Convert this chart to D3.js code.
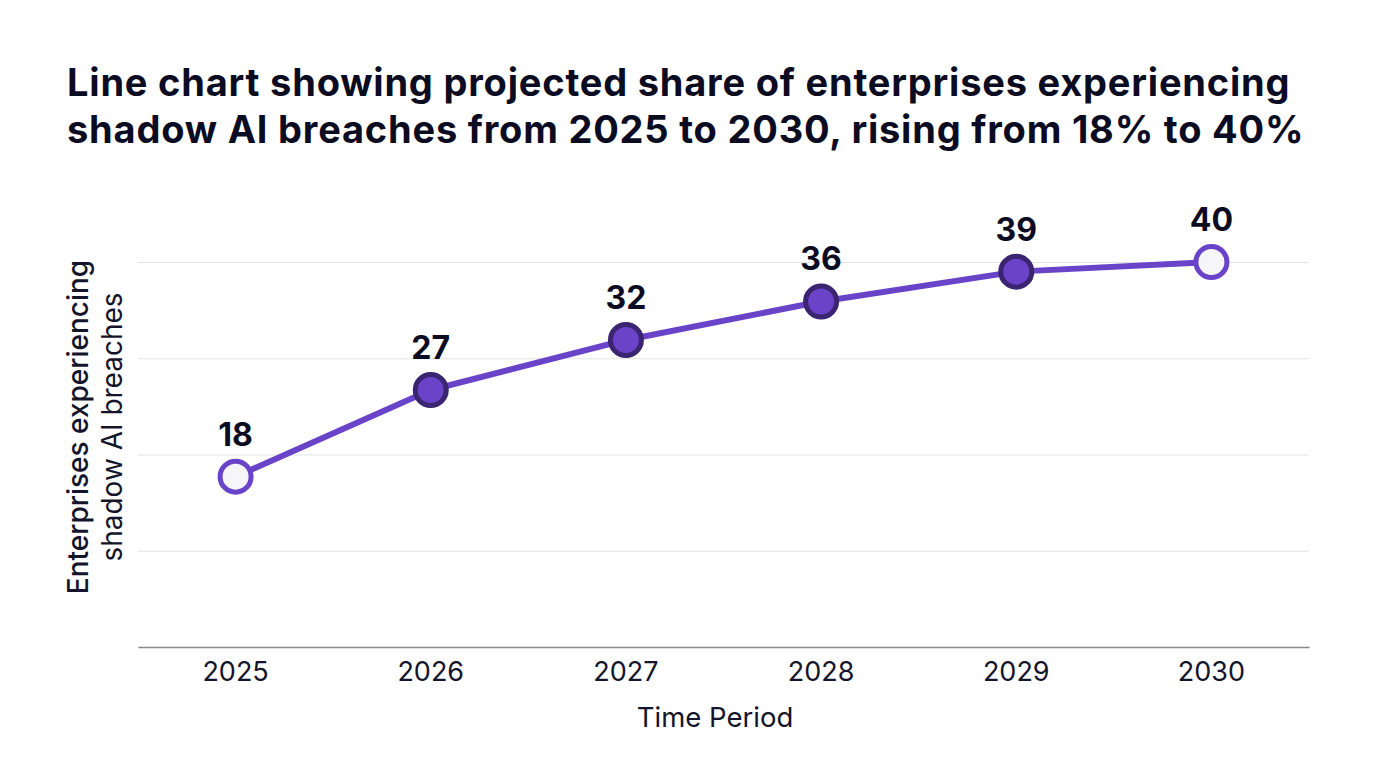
<!DOCTYPE html>
<html>
<head>
<meta charset="utf-8">
<script src="https://cdn.jsdelivr.net/npm/d3@7"></script>
<style>
  html, body { margin: 0; padding: 0; background: #ffffff; }
  svg { display: block; font-family: Inter, "Noto Sans", sans-serif; }
</style>
</head>
<body>
<svg id="chart" width="1376" height="768"></svg>
<script>
const titleLines = [
  "Line chart showing projected share of enterprises experiencing",
  "shadow AI breaches from 2025 to 2030, rising from 18% to 40%"
];
const years = ["2025", "2026", "2027", "2028", "2029", "2030"];
const shares = [17.7, 26.7, 31.9, 35.9, 39, 40];
const gridTicks = [10, 20, 30, 40];
const yTitleLines = ["Enterprises experiencing", "shadow AI breaches"];
const xTitle = "Time Period";

const svg = d3.select("#chart");
const margin = { left: 138, right: 67, top: 262, bottom: 121 };
const W = 1376, H = 768;

const x = d3.scaleBand().domain(years).range([margin.left, W - margin.right]).padding(0);
const y = d3.scaleLinear().domain([0, 40]).range([H - margin.bottom, margin.top]);

// Title
svg.append("g").selectAll("text").data(titleLines).join("text")
  .attr("x", 67).attr("y", (d, i) => 96 + i * 47)
  .attr("font-size", 38).attr("font-weight", 700).attr("fill", "#0b0b22")
  .attr("letter-spacing", 0.8)
  .text(d => d);

// Grid lines
svg.append("g").attr("class", "grid")
  .attr("transform", `translate(${margin.left},0)`)
  .call(d3.axisLeft(y).tickValues(gridTicks).tickSize(-(W - margin.right - margin.left)).tickFormat(""))
  .call(g => g.select(".domain").remove())
  .call(g => g.selectAll("line").attr("stroke", "#e3e3e6").attr("stroke-width", 1));

// X axis
const xAxis = svg.append("g")
  .attr("transform", `translate(0,${H - margin.bottom})`)
  .call(d3.axisBottom(x).tickSize(0).tickPadding(15));
xAxis.select(".domain").attr("stroke", "#8a8a93").attr("stroke-width", 1.5);
xAxis.selectAll("text").attr("font-size", 27).attr("fill", "#14142b")
  .attr("font-family", "Inter, 'Noto Sans', sans-serif");

// Axis titles
svg.append("text").attr("x", 715).attr("y", 727).attr("text-anchor", "middle")
  .attr("font-size", 27.5).attr("fill", "#14142b").text(xTitle);

svg.append("g").selectAll("text").data(yTitleLines).join("text")
  .attr("transform", (d, i) => `translate(${88 + i * 34},427) rotate(-90)`)
  .attr("text-anchor", "middle")
  .attr("font-size", 28).attr("font-weight", (d, i) => i === 0 ? 500 : 400).attr("fill", "#14142b")
  .text(d => d);

const data = years.map((yr, i) => ({ year: yr, value: shares[i], i }));
const cx = d => x(d.year) + x.bandwidth() / 2;

// Line
svg.append("path").datum(data)
  .attr("fill", "none").attr("stroke", "#6a44c8").attr("stroke-width", 6)
  .attr("stroke-linejoin", "round")
  .attr("d", d3.line().x(cx).y(d => y(d.value)));

// Points
const last = data.length - 1;
svg.append("g").selectAll("circle").data(data).join("circle")
  .attr("cx", cx).attr("cy", d => y(d.value)).attr("r", 15.5)
  .attr("fill", d => (d.i === 0 || d.i === last) ? "#f6f5f8" : "#6b43c9")
  .attr("stroke", d => (d.i === 0 || d.i === last) ? "#6a44c8" : "#3b2470")
  .attr("stroke-width", 5);

// Labels
svg.append("g").selectAll("text").data(data).join("text")
  .attr("x", cx).attr("y", d => y(d.value) - 31)
  .attr("text-anchor", "middle").attr("font-size", 32).attr("font-weight", 700)
  .attr("fill", "#0b0b22")
  .text(d => d3.format(".0f")(d.value));
</script>
</body>
</html>
